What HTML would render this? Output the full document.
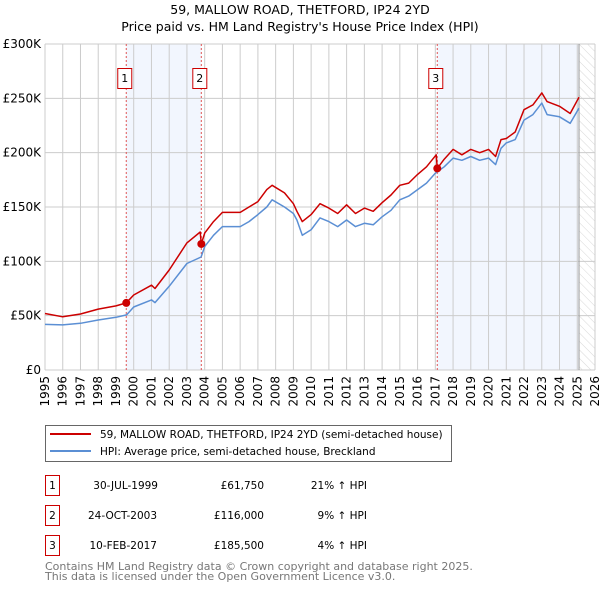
<!DOCTYPE html>
<html><head><meta charset="utf-8"><style>
body{margin:0;background:#fff;font-family:"DejaVu Sans","Liberation Sans",sans-serif;}
svg text{font-family:"DejaVu Sans","Liberation Sans",sans-serif;}
</style></head><body>
<svg width="600" height="590" viewBox="0 0 600 590" xmlns="http://www.w3.org/2000/svg">
<defs><pattern id="hatch" width="6" height="6" patternUnits="userSpaceOnUse" patternTransform="rotate(-45)"><line x1="0" y1="0" x2="0" y2="6" stroke="#d8d8d8" stroke-width="1"/></pattern></defs>
<text x="300" y="14" text-anchor="middle" font-size="12.5">59, MALLOW ROAD, THETFORD, IP24 2YD</text>
<text x="300" y="31" text-anchor="middle" font-size="12.5">Price paid vs. HM Land Registry's House Price Index (HPI)</text>
<g id="plot"></g>
<g>
<rect x="45.5" y="425.5" width="406" height="36" fill="#fff" stroke="#666"/>
<line x1="50" y1="434" x2="91" y2="434" stroke="#cc0000" stroke-width="2"/>
<text x="100" y="438" font-size="10.5">59, MALLOW ROAD, THETFORD, IP24 2YD (semi-detached house)</text>
<line x1="50" y1="451" x2="91" y2="451" stroke="#5b8fd4" stroke-width="2"/>
<text x="100" y="455" font-size="10.5">HPI: Average price, semi-detached house, Breckland</text>
</g>
<g font-size="10.5">
<rect x="45.5" y="475.5" width="14" height="20" fill="none" stroke="#cc0000"/><text x="52.5" y="489" text-anchor="middle">1</text>
<text x="158" y="489" text-anchor="end">30-JUL-1999</text><text x="264" y="489" text-anchor="end">£61,750</text><text x="367" y="489" text-anchor="end">21% ↑ HPI</text>
<rect x="45.5" y="505.5" width="14" height="20" fill="none" stroke="#cc0000"/><text x="52.5" y="519" text-anchor="middle">2</text>
<text x="157" y="519" text-anchor="end">24-OCT-2003</text><text x="264" y="519" text-anchor="end">£116,000</text><text x="367" y="519" text-anchor="end">9% ↑ HPI</text>
<rect x="45.5" y="535.5" width="14" height="20" fill="none" stroke="#cc0000"/><text x="52.5" y="549" text-anchor="middle">3</text>
<text x="157" y="549" text-anchor="end">10-FEB-2017</text><text x="264" y="549" text-anchor="end">£185,500</text><text x="367" y="549" text-anchor="end">4% ↑ HPI</text>
</g>
<text x="45" y="570" font-size="11" fill="#777">Contains HM Land Registry data © Crown copyright and database right 2025.</text>
<text x="45" y="580" font-size="11" fill="#777">This data is licensed under the Open Government Licence v3.0.</text>
</svg>
<script>
const hpiYears=[1995,1996,1997,1998,1999,1999.6,2000,2001,2001.2,2002,2003,2003.8,2004,2004.5,2005,2006,2006.5,2007,2007.5,2007.8,2008.5,2009,2009.2,2009.5,2010,2010.5,2011,2011.5,2012,2012.5,2013,2013.5,2014,2014.5,2015,2015.5,2016,2016.5,2017,2017.5,2018,2018.5,2019,2019.5,2020,2020.4,2020.7,2021,2021.5,2022,2022.5,2023,2023.3,2024,2024.6,2025.1];
const hpiValues=[42,41.5,43,46,48.5,50.7,58,64.5,62,77,98,104,113.6,124,132,132,136.6,143,150,156.6,150,144,138,124,129,140,136.6,132,138,132,135,133.6,141,147,156.6,160,166,172,181,187,195,193,196.5,193,195,189,204,209,212,230,235,245.6,235,233,227,241];
const priceYears=[1995,1996,1997,1998,1999,1999.58,2000,2001,2001.2,2002,2003,2003.75,2003.81,2004,2004.5,2005,2006,2006.5,2007,2007.5,2007.8,2008.5,2009,2009.2,2009.5,2010,2010.5,2011,2011.5,2012,2012.5,2013,2013.5,2014,2014.5,2015,2015.5,2016,2016.5,2017.05,2017.11,2017.5,2018,2018.5,2019,2019.5,2020,2020.4,2020.7,2021,2021.5,2022,2022.5,2023,2023.3,2024,2024.6,2025.1];
const priceValues=[52,49,51.5,56,59,61.75,69,78,75,92,117,127,116,126,136.6,145,145,150,155,166,170,163,153,146,136.6,143,153,149,144,152,144,149,146,154,161,170,172,180,187,198,185.5,194,203,198,203,200,203,196.5,212,213,219,239.5,244,255,247,242.7,236,251];
const saleLabels=["1","2","3"];
const saleYears=[1999.58,2003.81,2017.11];
const saleValues=[61.75,116,185.5];
const yTicks=[0,50,100,150,200,250,300];
const yTickLabels=["£0","£50K","£100K","£150K","£200K","£250K","£300K"];
const xTicks=[1995,1996,1997,1998,1999,2000,2001,2002,2003,2004,2005,2006,2007,2008,2009,2010,2011,2012,2013,2014,2015,2016,2017,2018,2019,2020,2021,2022,2023,2024,2025,2026];

const L=45,R=595,T=44,B=370,X0=1995,X1=2026,YMAX=300;
const sx=y=>L+(y-X0)/(X1-X0)*(R-L);
const sy=v=>B-v/YMAX*(B-T);
const NS="http://www.w3.org/2000/svg";
const g=document.getElementById('plot');
function mk(tag,attrs,parent){const e=document.createElementNS(NS,tag);for(const k in attrs)e.setAttribute(k,attrs[k]);(parent||g).appendChild(e);return e;}
const s1=mk('rect',{x:sx(saleYears[0]),y:T,width:sx(saleYears[1])-sx(saleYears[0]),height:B-T,fill:'#f2f6fe'});


const s2=mk('rect',{x:sx(saleYears[2]),y:T,width:sx(2025.1)-sx(saleYears[2]),height:B-T,fill:'#f2f6fe'});


const h=mk('rect',{x:sx(2025.1),y:T,width:R-sx(2025.1),height:B-T,fill:'url(#hatch)'});


xTicks.forEach((t,i)=>{
 const l=mk('line',{x1:sx(t),y1:T,x2:sx(t),y2:B,stroke:'#ccc','stroke-width':1});
 
 
 const tx=mk('text',{x:0,y:0,'font-size':12,'text-anchor':'end',transform:`translate(${sx(t)+4},${B+6}) rotate(-90)`});
 tx.textContent=t;
 
 
});
yTicks.forEach((t,i)=>{
 const l=mk('line',{x1:L,y1:sy(t),x2:R,y2:sy(t),stroke:'#ccc','stroke-width':1});
 
 
 const tx=mk('text',{x:L-4,y:sy(t)+4,'font-size':12,'text-anchor':'end'});
 tx.textContent=yTickLabels[i];
 
 
});
mk('line',{x1:sx(2025.1),y1:T,x2:sx(2025.1),y2:B,stroke:'#999','stroke-width':1});
saleYears.forEach((y,i)=>{
 const l=mk('line',{x1:sx(y),y1:T,x2:sx(y),y2:B,stroke:'#e05555','stroke-width':1,'stroke-dasharray':'2,2'});
 
 
 const r=mk('rect',{x:sx(y)-8.5,y:68.5,width:14,height:20,fill:'#fff',stroke:'#cc0000'});
 
 
 const t=mk('text',{x:sx(y)-1.5,y:82,'font-size':11,'text-anchor':'middle'});
 t.textContent=saleLabels[i];
 
 
});
function line(xs,vs,col,name){
 const d=xs.map((x,i)=>(i?'L':'M')+sx(x).toFixed(1)+','+sy(vs[i]).toFixed(1)).join('');
 const p=mk('path',{d:d,fill:'none',stroke:col,'stroke-width':1.5,'stroke-linejoin':'round'});
 
 
}
line(hpiYears,hpiValues,'#5b8fd4','hpi-line');
line(priceYears,priceValues,'#cc0000','price-line');
saleYears.forEach((y,i)=>{
 const c=mk('circle',{cx:sx(y),cy:sy(saleValues[i]),r:4,fill:'#cc0000'});
 
 
});
</script>
</body></html>
